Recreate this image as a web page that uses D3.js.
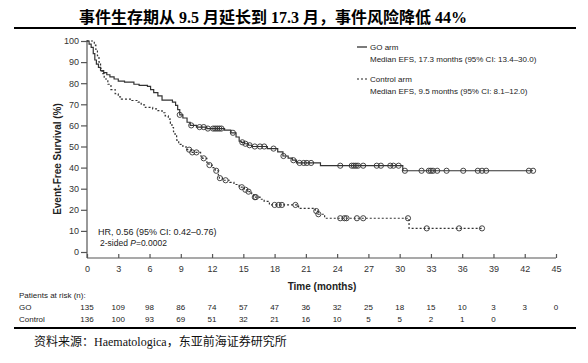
<!DOCTYPE html>
<html>
<head>
<meta charset="utf-8">
<script src="https://cdn.jsdelivr.net/npm/d3@7"></script>
<style>
  body { margin: 0; background: #fff; }
  svg text { font-family: "Liberation Sans", Arial, sans-serif; fill: #222; }
</style>
</head>
<body>
<div id="chart"></div>
<script>
// tick labels
const xTicks = [0, 3, 6, 9, 12, 15, 18, 21, 24, 27, 30, 33, 36, 39, 42, 45];
const yTicks = [0, 10, 20, 30, 40, 50, 60, 70, 80, 90, 100];

// GO arm: step times (months) and survival (%) after each step
const goTimes = [0, 0.2, 0.4, 0.6, 0.75, 0.9, 1.1, 1.3, 1.6, 1.9, 2.2, 2.6, 3.0, 3.6, 4.5, 5.0, 5.8, 6.1, 6.4, 6.8, 7.2, 8.2, 8.5, 8.7, 8.9, 9.2, 9.6, 9.9, 10.5, 11.5, 13.2, 13.8, 14.3, 14.6, 14.8, 15.1, 15.5, 15.8, 17.3, 18.3, 18.8, 19.3, 19.7, 20.1, 22.4, 30.3];
const goSurv  = [100, 98.5, 97, 94, 91, 89, 87.5, 86, 85, 84, 83, 82, 81, 80.5, 79.5, 79, 78.5, 77, 75.5, 74, 72, 71, 69.5, 67.5, 65, 63.5, 61.5, 60, 59.2, 58.5, 57.8, 56.5, 54.5, 52.5, 52, 51.3, 50.6, 50, 49, 47.5, 45.5, 44.5, 43.5, 42.2, 40.9, 38.5];
const goCensor = [8.9, 10.0, 10.8, 11.2, 11.6, 12.1, 12.3, 12.5, 12.7, 12.9, 14.0, 14.9, 15.2, 15.6, 16.1, 16.6, 17.0, 17.9, 18.85, 19.8, 20.4, 20.8, 21.1, 21.5, 24.3, 25.4, 25.6, 25.8, 26.0, 26.5, 27.8, 28.2, 29.1, 29.4, 29.9, 30.5, 32.1, 32.8, 33.0, 33.2, 33.6, 34.5, 36.1, 37.5, 37.9, 38.3, 42.4, 42.8];
const goEnd = 42.8;

// Control arm
const ctlTimes = [0, 0.7, 0.85, 1.0, 1.15, 1.3, 1.45, 1.65, 2.0, 2.3, 2.7, 3.0, 3.3, 4.3, 4.9, 5.2, 5.6, 6.3, 6.8, 7.2, 7.5, 7.8, 8.0, 8.15, 8.3, 8.45, 8.6, 8.8, 9.2, 9.5, 10.0, 10.9, 11.1, 11.5, 11.7, 12.0, 12.3, 12.6, 12.7, 13.0, 13.7, 14.1, 14.6, 14.8, 15.1, 15.4, 15.8, 16.0, 16.6, 17.0, 17.5, 20.3, 21.9, 22.15, 22.8, 30.9];
const ctlSurv  = [100, 98, 96, 93, 90, 87, 84.5, 82, 79.5, 77, 75, 73.5, 72.5, 71.8, 71, 69.7, 68.5, 67.8, 67, 66, 64.5, 63, 61, 59, 57, 55, 53, 51, 50, 48.5, 47.2, 45.5, 44.4, 42.5, 41.2, 40, 38.5, 36.5, 35, 34, 33, 32, 31, 30.7, 29.5, 28.6, 27.2, 26, 25, 24, 22.3, 20.7, 19.4, 17.9, 16, 11.2];
const ctlCensor = [9.8, 10.1, 10.5, 11.2, 11.75, 12.4, 12.75, 13.3, 14.85, 15.2, 15.5, 16.1, 16.2, 18.0, 18.4, 18.7, 20.0, 22.0, 22.2, 24.3, 24.7, 24.9, 25.9, 26.5, 30.8, 32.6, 35.7, 37.9];
const ctlEnd = 37.9;

// patients at risk
const riskGO = [135, 109, 98, 86, 74, 57, 47, 36, 32, 25, 18, 15, 10, 3, 3, 0];
const riskControl = [136, 100, 93, 69, 51, 32, 21, 16, 10, 5, 5, 2, 1, 0];

const width = 588, height = 363;
const axisY = 258;

let svg = d3.select("#chart").append("svg")
    .attr("width", width)
    .attr("height", height);

let x = d3.scaleLinear().domain([0, 45]).range([87, 556]);
let y = d3.scaleLinear().domain([0, 100]).range([252, 41]);

// title and rules
svg.append("text")
    .attr("x", 273).attr("y", 23)
    .attr("text-anchor", "middle")
    .style("font-family", "'Liberation Serif', 'Noto Sans CJK SC', serif")
    .style("font-weight", "bold")
    .style("font-size", "16px")
    .style("fill", "#000")
    .text("事件生存期从 9.5 月延长到 17.3 月，事件风险降低 44%");

svg.append("line")
    .attr("x1", 14).attr("x2", 576).attr("y1", 28).attr("y2", 28)
    .attr("stroke", "#000").attr("stroke-width", 2);

svg.append("line")
    .attr("x1", 14).attr("x2", 576).attr("y1", 328).attr("y2", 328)
    .attr("stroke", "#000").attr("stroke-width", 2);

svg.append("text")
    .attr("x", 34).attr("y", 346)
    .style("font-family", "'Liberation Serif', 'Noto Sans CJK SC', serif")
    .style("font-size", "12px")
    .style("fill", "#111")
    .text("资料来源：Haematologica，东亚前海证券研究所");

// axes
let xAxis = d3.axisBottom(x).tickValues(xTicks).tickSize(-4).tickPadding(8);
let yAxis = d3.axisLeft(y).tickValues(yTicks).tickSize(6).tickPadding(2);

let gx = svg.append("g")
    .attr("transform", "translate(0," + axisY + ")")
    .call(xAxis);
gx.select(".domain").attr("d", "M" + x(0) + ",0H" + x(45));

let gy = svg.append("g")
    .attr("transform", "translate(" + x(0) + ",0)")
    .call(yAxis);
gy.select(".domain").attr("d", "M0," + (y(100) - 1) + "V" + axisY);

svg.selectAll(".tick text").style("font-size", "9px").style("fill", "#333");
svg.selectAll(".domain, .tick line").attr("stroke", "#555").attr("stroke-width", 1.2);

svg.append("text")
    .attr("x", 322).attr("y", 290)
    .attr("text-anchor", "middle")
    .style("font-weight", "bold")
    .style("font-size", "10px")
    .text("Time (months)");

svg.append("text")
    .attr("transform", "translate(61,159) rotate(-90)")
    .attr("text-anchor", "middle")
    .style("font-weight", "bold")
    .style("font-size", "10px")
    .text("Event-Free Survival (%)");

// curves
function stepPoints(times, surv, end) {
  let pts = times.map((t, i) => [t, surv[i]]);
  pts.push([end, surv[surv.length - 1]]);
  return pts;
}

function survAt(times, surv, t) {
  let i = d3.bisectRight(times, t) - 1;
  return surv[Math.max(i, 0)];
}

let line = d3.line()
    .x(d => x(d[0]))
    .y(d => y(d[1]))
    .curve(d3.curveStepAfter);

svg.append("path")
    .datum(stepPoints(ctlTimes, ctlSurv, ctlEnd))
    .attr("d", line)
    .attr("fill", "none")
    .attr("stroke", "#333")
    .attr("stroke-width", 1.2)
    .attr("stroke-dasharray", "2,2");

svg.append("path")
    .datum(stepPoints(goTimes, goSurv, goEnd))
    .attr("d", line)
    .attr("fill", "none")
    .attr("stroke", "#333")
    .attr("stroke-width", 1.2);

svg.append("g").selectAll("circle")
    .data(goCensor)
    .join("circle")
    .attr("cx", d => x(d))
    .attr("cy", d => y(survAt(goTimes, goSurv, d)))
    .attr("r", 2.6)
    .attr("fill", "none")
    .attr("stroke", "#333")
    .attr("stroke-width", 0.9);

svg.append("g").selectAll("circle")
    .data(ctlCensor)
    .join("circle")
    .attr("cx", d => x(d))
    .attr("cy", d => y(survAt(ctlTimes, ctlSurv, d)))
    .attr("r", 2.6)
    .attr("fill", "none")
    .attr("stroke", "#333")
    .attr("stroke-width", 0.9);

// legend
let legend = svg.append("g").style("font-size", "8px");
legend.append("line").attr("x1", 357).attr("x2", 367).attr("y1", 47).attr("y2", 47)
    .attr("stroke", "#222").attr("stroke-width", 1.2);
legend.append("line").attr("x1", 357).attr("x2", 367).attr("y1", 79).attr("y2", 79)
    .attr("stroke", "#222").attr("stroke-width", 1.2).attr("stroke-dasharray", "2,2");
legend.append("text").attr("x", 370).attr("y", 50).text("GO arm");
legend.append("text").attr("x", 370).attr("y", 62).text("Median EFS, 17.3 months (95% CI: 13.4\u201330.0)");
legend.append("text").attr("x", 370).attr("y", 82).text("Control arm");
legend.append("text").attr("x", 370).attr("y", 94).text("Median EFS, 9.5 months (95% CI: 8.1\u201312.0)");

// HR note
svg.append("text").attr("x", 98).attr("y", 235)
    .style("font-size", "9px")
    .text("HR, 0.56 (95% CI: 0.42\u20130.76)");
let pt = svg.append("text").attr("x", 100).attr("y", 246).style("font-size", "8.5px");
pt.append("tspan").text("2-sided ");
pt.append("tspan").style("font-style", "italic").text("P");
pt.append("tspan").text("=0.0002");

// patients at risk table
let risk = svg.append("g").style("font-size", "8px");
risk.append("text").attr("x", 19).attr("y", 298).text("Patients at risk (n):");
risk.append("text").attr("x", 19).attr("y", 310).text("GO");
risk.append("text").attr("x", 19).attr("y", 322).text("Control");

risk.selectAll(".go").data(riskGO).join("text")
    .attr("class", "go")
    .attr("x", (d, i) => x(xTicks[i]))
    .attr("y", 310)
    .attr("text-anchor", "middle")
    .text(d => d);

risk.selectAll(".ctl").data(riskControl).join("text")
    .attr("class", "ctl")
    .attr("x", (d, i) => x(xTicks[i]))
    .attr("y", 322)
    .attr("text-anchor", "middle")
    .text(d => d);
</script>
</body>
</html>
